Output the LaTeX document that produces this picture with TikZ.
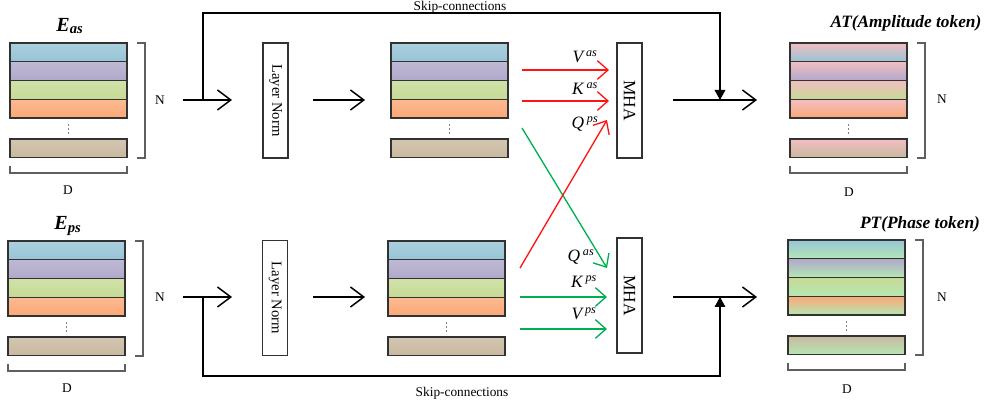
\documentclass[tikz,border=0pt]{standalone}
\usepackage{fontspec}
\setmainfont{Liberation Serif}
\usetikzlibrary{arrows.meta}
\definecolor{cblue}{RGB}{150,196,214}
\definecolor{cpurple}{RGB}{176,168,202}
\definecolor{cgreen}{RGB}{198,218,148}
\definecolor{corange}{RGB}{252,168,118}
\definecolor{ctan}{RGB}{200,184,158}
\definecolor{cpink}{RGB}{242,190,194}
\definecolor{clgreen}{RGB}{180,232,180}
\definecolor{bordergray}{RGB}{50,50,50}
\definecolor{brgray}{RGB}{95,95,95}
\definecolor{ared}{RGB}{255,20,20}
\definecolor{agreen}{RGB}{0,176,80}
\tikzset{
  x=0.75pt, y=-0.75pt,
  row/.style={draw=bordergray, line width=0.9pt, minimum width=87.75pt, minimum height=14.06pt, anchor=north west, inner sep=0pt, outer sep=0pt},
  plainrow/.style={row, top color=#1!80, middle color=#1!12, bottom color=#1},
  atrow/.style={row, top color=cpink, bottom color=#1},
  ptrow/.style={row, top color=#1, bottom color=clgreen},
  vbox/.style={draw=bordergray, line width=0.8pt, minimum width=18.75pt, minimum height=86.25pt, inner sep=0pt, fill=white},
  brk/.style={draw=brgray, line width=0.8pt},
  lbl/.style={font=\fontsize{10}{12}\selectfont, inner sep=0pt},
  ttl/.style={font=\fontsize{13}{15}\selectfont\bfseries\itshape, inner sep=0pt},
  etl/.style={font=\fontsize{15}{17}\selectfont\bfseries\itshape, inner sep=0pt},
  qkv/.style={font=\fontsize{13}{15}\selectfont\itshape, inner sep=0pt},
  bigarrow/.style={line width=1.1pt, -{Straight Barb[length=10pt,width=15pt,line width=1.1pt]}},
  redarrow/.style={draw=ared, line width=1pt, -{Straight Barb[length=8pt,width=14pt,line width=1pt]}},
  grnarrow/.style={draw=agreen, line width=1pt, -{Straight Barb[length=8pt,width=14pt,line width=1pt]}},
  skip/.style={line width=0.8pt, -{Triangle[length=7.5pt,width=8pt]}}
}
\newcommand\tokstack[4]{%
  \node[#4=cblue]   (#1r1) at (#2,#3) {};
  \node[#4=cpurple] (#1r2) at (#2,#3+18.75) {};
  \node[#4=cgreen]  (#1r3) at (#2,#3+37.5) {};
  \node[#4=corange] (#1r4) at (#2,#3+56.25) {};
  \node[#4=ctan]    (#1r5) at (#2,#3+96) {};
  \foreach \dy in {82,86,90} {\fill (#2+58.5,#3+\dy) circle (0.6);}
}
\newcommand\stackbrackets[2]{%
  \draw[brk] (#1+127,#2) -- (#1+135,#2) -- (#1+135,#2+115) -- (#1+127,#2+115);
  \draw[brk] (#1,#2+123) -- (#1,#2+130) -- (#1+117,#2+130) -- (#1+117,#2+123);
}
\begin{document}
\begin{tikzpicture}
\useasboundingbox (0,0) rectangle (997,406);

% ---------- top branch ----------
\node[etl] (Eas) at (70,26) {E\textsubscript{\fontsize{11}{11}\selectfont as}};
\tokstack{A}{10}{43}{plainrow}
\stackbrackets{10}{43}
\node[lbl] (NA) at (160,100) {N};
\node[lbl] (DA) at (68,190) {D};

\coordinate (a0) at (183,100);
\coordinate (a1) at (232,100);
\coordinate (sa) at (203,100);
\draw[bigarrow] (a0) -- (a1);

\node[vbox] (LN1) at (275.5,100.5) {};
\node[lbl, rotate=-90, font=\fontsize{11}{12}\selectfont] (LN1t) at (LN1.center) {Layer Norm};

\coordinate (b0) at (313,100);
\coordinate (b1) at (365,100);
\draw[bigarrow] (b0) -- (b1);

\tokstack{B}{391}{43}{plainrow}

\node[vbox] (MHA1) at (629.5,100.5) {};
\node[rotate=-90, font=\fontsize{13}{14}\selectfont, inner sep=0pt] (MHA1t) at (MHA1.center) {MHA};

\coordinate (rv0) at (522,70);  \coordinate (rv1) at (609,70);
\coordinate (rk0) at (522,101); \coordinate (rk1) at (609,101);
\draw[redarrow] (rv0) -- (rv1);
\draw[redarrow] (rk0) -- (rk1);
\node[qkv] (Vas) at (585,57) {V\,\textsuperscript{as}};
\node[qkv] (Kas) at (585,89) {K\,\textsuperscript{as}};
\node[qkv] (Qps) at (585,124) {Q\,\textsuperscript{ps}};

\coordinate (c0) at (673,100);
\coordinate (c1) at (757,100);
\draw[bigarrow] (c0) -- (c1);
\coordinate (sa1) at (720,100);
\draw[skip] (sa) -- (203,13) -- (720,13) -- (sa1);
\node[lbl] (skA) at (460,7) {Skip-connections};

\tokstack{C}{790}{43}{atrow}
\stackbrackets{790}{43}
\node[lbl] (NC) at (942,99) {N};
\node[lbl] (DC) at (849,192) {D};
\node[ttl] (AT) at (906,23) {AT(Amplitude token)};

% ---------- bottom branch ----------
\node[etl] (Eps) at (68,226) {E\textsubscript{\fontsize{11}{11}\selectfont ps}};
\tokstack{P}{8}{241}{plainrow}
\stackbrackets{8}{241}
\node[lbl] (NP) at (160,297) {N};
\node[lbl] (DP) at (67,388) {D};

\coordinate (d0) at (183,297);
\coordinate (d1) at (232,297);
\coordinate (sp) at (203,297);
\draw[bigarrow] (d0) -- (d1);

\node[vbox] (LN2) at (275,298) {};
\node[lbl, rotate=-90, font=\fontsize{11}{12}\selectfont] (LN2t) at (LN2.center) {Layer Norm};

\coordinate (e0) at (313,297);
\coordinate (e1) at (365,297);
\draw[bigarrow] (e0) -- (e1);

\tokstack{Q}{388}{241}{plainrow}

\node[vbox] (MHA2) at (629.5,295.5) {};
\node[rotate=-90, font=\fontsize{13}{14}\selectfont, inner sep=0pt] (MHA2t) at (MHA2.center) {MHA};

\coordinate (gk0) at (520,297); \coordinate (gk1) at (607,297);
\coordinate (gv0) at (520,329); \coordinate (gv1) at (607,329);
\draw[grnarrow] (gk0) -- (gk1);
\draw[grnarrow] (gv0) -- (gv1);
\node[qkv] (Qas) at (581,257) {Q\,\textsuperscript{as}};
\node[qkv] (Kps) at (584,282) {K\,\textsuperscript{ps}};
\node[qkv] (Vps) at (584,314) {V\,\textsuperscript{ps}};

% cross arrows
\coordinate (x0) at (520,268); \coordinate (x1) at (607,120);
\coordinate (y0) at (522,128); \coordinate (y1) at (607,268);
\draw[grnarrow] (y0) -- (y1);
\draw[redarrow] (x0) -- (x1);

\coordinate (f0) at (673,297);
\coordinate (f1) at (757,297);
\draw[bigarrow] (f0) -- (f1);
\coordinate (sp1) at (720,297);
\draw[skip] (sp) -- (203,376) -- (720,376) -- (sp1);
\node[lbl] (skP) at (462,393) {Skip-connections};

\tokstack{R}{788}{240}{ptrow}
\stackbrackets{788}{240}
\node[lbl] (NR) at (942,297) {N};
\node[lbl] (DR) at (847,389) {D};
\node[ttl] (PT) at (920,224) {PT(Phase token)};
\end{tikzpicture}
\end{document}
